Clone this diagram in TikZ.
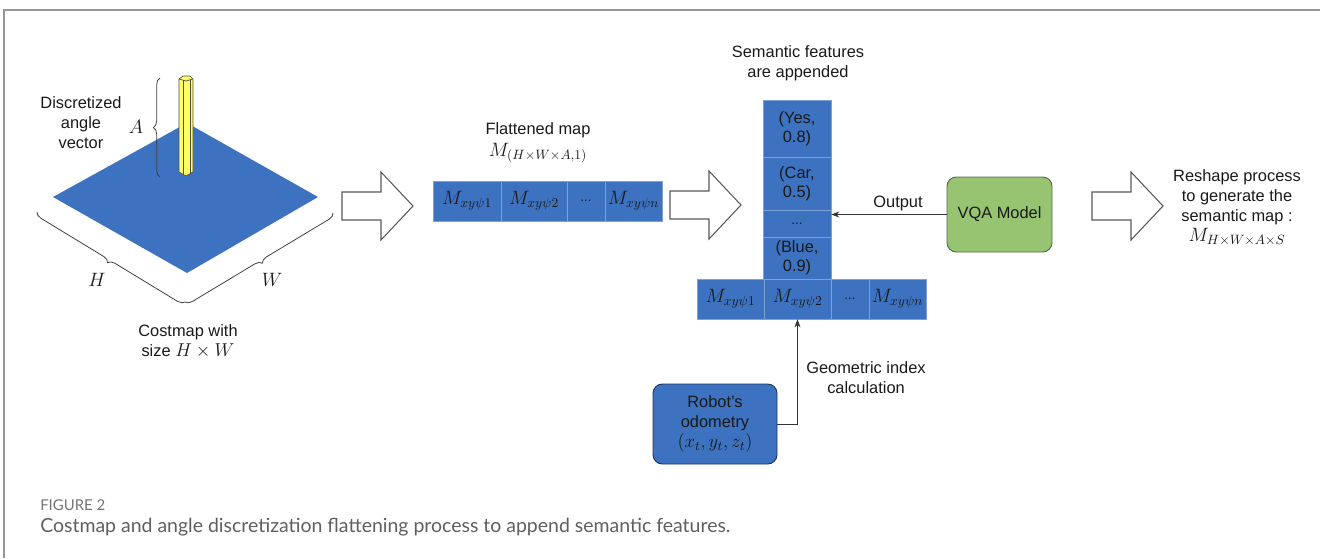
\RequirePackage{fix-cm}
\documentclass[tikz,border=0pt]{standalone}
\usepackage{fontspec}
\setmainfont{Liberation Sans}
\newfontfamily\capfont{Lato}
\usetikzlibrary{decorations.pathreplacing,arrows.meta}
\definecolor{mapblue}{RGB}{60,114,192}
\definecolor{cellline}{RGB}{125,160,215}
\definecolor{vqagreen}{RGB}{151,196,112}
\definecolor{vqaedge}{RGB}{85,105,80}
\definecolor{robotedge}{RGB}{30,55,100}
\definecolor{pillarfill}{RGB}{255,255,100}
\definecolor{framegray}{RGB}{150,150,150}
\definecolor{txt}{RGB}{25,25,25}
\definecolor{capgray}{RGB}{95,95,95}
\begin{document}
\begin{tikzpicture}[x=0.75pt,y=-0.75pt,
  every node/.style={font=\fontsize{12.3}{15}\selectfont, text=txt, inner sep=0pt, align=center},
  cell/.style={draw=cellline, fill=mapblue, line width=0.5pt, minimum height=30pt, font=\fontsize{14.5}{15}\selectfont},
  scell/.style={draw=cellline, fill=mapblue, line width=0.5pt, minimum width=51pt, font=\fontsize{12.3}{14.5}\selectfont},
  dotcell/.style={font=\fontsize{10}{12}\selectfont},
  hollow/.style={draw=black!65, fill=white, line width=0.8pt, line join=miter},
  conn/.style={draw=black!80, line width=0.7pt, -{Stealth[length=6pt,width=4.5pt]}},
  bracestyle/.style={draw=black!75, line width=0.6pt, decorate, decoration={brace, amplitude=5pt}},
  capstyle/.style={font=\capfont\fontsize{14.6}{17}\selectfont, text=capgray, anchor=west},
  mathbig/.style={font=\fontsize{14.5}{15}\selectfont}
]
\useasboundingbox (0,0) rectangle (1320,558);
% frame
\draw[framegray, line width=1.5pt] (3.5,558) -- (3.5,9.5) -- (1320,9.5);

% costmap diamond
\fill[mapblue] (53,197) -- (187,123) -- (318,197) -- (187,273) -- cycle;
% pillar
\draw[fill=pillarfill, draw=black!70, line width=0.5pt, line join=round]
  (179,79) -- (183,76) -- (190,76) -- (193,79) -- (193,172) -- (186,176) -- (179,172) -- cycle;
\draw[black!70, line width=0.5pt] (179,79) -- (186,81) -- (193,79);
\draw[black!70, line width=0.5pt] (183,80) -- (183,174);
\draw[black!70, line width=0.5pt] (190,80) -- (190,174);

% braces
\draw[bracestyle] (160,177) -- (160,78);
\draw[bracestyle] (185,302) -- (37,212);
\draw[bracestyle] (333,213) -- (185,302);

\node[mathbig] (alab) at (136,127) {$A$};
\node[mathbig] (hlab) at (97,280) {$H$};
\node[mathbig] (wlab) at (272,280) {$W$};
\node (disc) at (81,123) {Discretized\\angle\\vector};
\node (costlbl) at (188,341) {Costmap with\\size {\fontsize{14}{15}\selectfont$H\times W$}};

% hollow arrows
\draw[hollow] (342,192) -- (381,192) -- (381,172) -- (413,206) -- (381,240) -- (381,220) -- (342,220) -- cycle;
\draw[hollow] (670,191) -- (709,191) -- (709,171) -- (741,205) -- (709,239) -- (709,219) -- (670,219) -- cycle;
\draw[hollow] (1092,192) -- (1131,192) -- (1131,172) -- (1163,206) -- (1131,240) -- (1131,220) -- (1092,220) -- cycle;

% flattened map
\node (flatT) at (538,130) {Flattened map};
\node[mathbig] (flatM) at (538,153) {$M_{(H\times W\times A,1)}$};
\node[cell, minimum width=51pt] (f1) at (467,201) {$M_{xy\psi1}$};
\node[cell, minimum width=49.5pt] (f2) at (534,201) {$M_{xy\psi2}$};
\node[cell, minimum width=28.5pt, dotcell] (f3) at (586,201) {...};
\node[cell, minimum width=42.75pt] (f4) at (633.5,201) {$M_{xy\psi n}$};

% semantic column
\node (sem) at (798,63) {Semantic features\\are appended};
\node[scell, minimum height=42.75pt] (yes) at (797,128.5) {(Yes,\\0.8)};
\node[scell, minimum height=39.75pt] (car) at (797,183.5) {(Car,\\0.5)};
\node[scell, minimum height=20.25pt, dotcell] (dots) at (797,223.5) {...};
\node[scell, minimum height=31.5pt] (blue) at (797,258) {(Blue,\\0.9)};
\node[cell, minimum width=50.25pt] (r1) at (730.5,299) {$M_{xy\psi1}$};
\node[cell, minimum width=50.25pt] (r2) at (797.5,299) {$M_{xy\psi2}$};
\node[cell, minimum width=28.5pt, dotcell] (r3) at (850,299) {...};
\node[cell, minimum width=42.75pt] (r4) at (897.5,299) {$M_{xy\psi n}$};

% VQA model
\node[draw=vqaedge, fill=vqagreen, line width=0.7pt, rounded corners=7pt,
      minimum width=78.75pt, minimum height=56.25pt] (vqa) at (999.5,214.5) {VQA Model};
\draw[conn] (vqa.west) -- (vqa.west -| yes.east);
\node (outl) at (898,203) {Output};

% robot odometry
\node[draw=robotedge, fill=mapblue, line width=0.7pt, rounded corners=7pt,
      minimum width=93pt, minimum height=60pt] (robot) at (715,424) {Robot's\\odometry\\{\fontsize{14}{15}\selectfont$(x_t,y_t,z_t)$}};
\draw[conn] (robot.east) -| (r2.south);
\node (geo) at (866,378) {Geometric index\\calculation};

% reshape text
\node (reshape) at (1237,208) {Reshape process\\to generate the\\semantic map :\\{\fontsize{14.5}{15}\selectfont$M_{H\times W\times A\times S}$}};

% caption
\node[capstyle, font=\capfont\fontsize{11.2}{13}\selectfont, text=black!55] (figlbl) at (40,505) {FIGURE 2};
\node[capstyle] (caption) at (40,527) {Costmap and angle discretization flattening process to append semantic features.};
\end{tikzpicture}
\end{document}
